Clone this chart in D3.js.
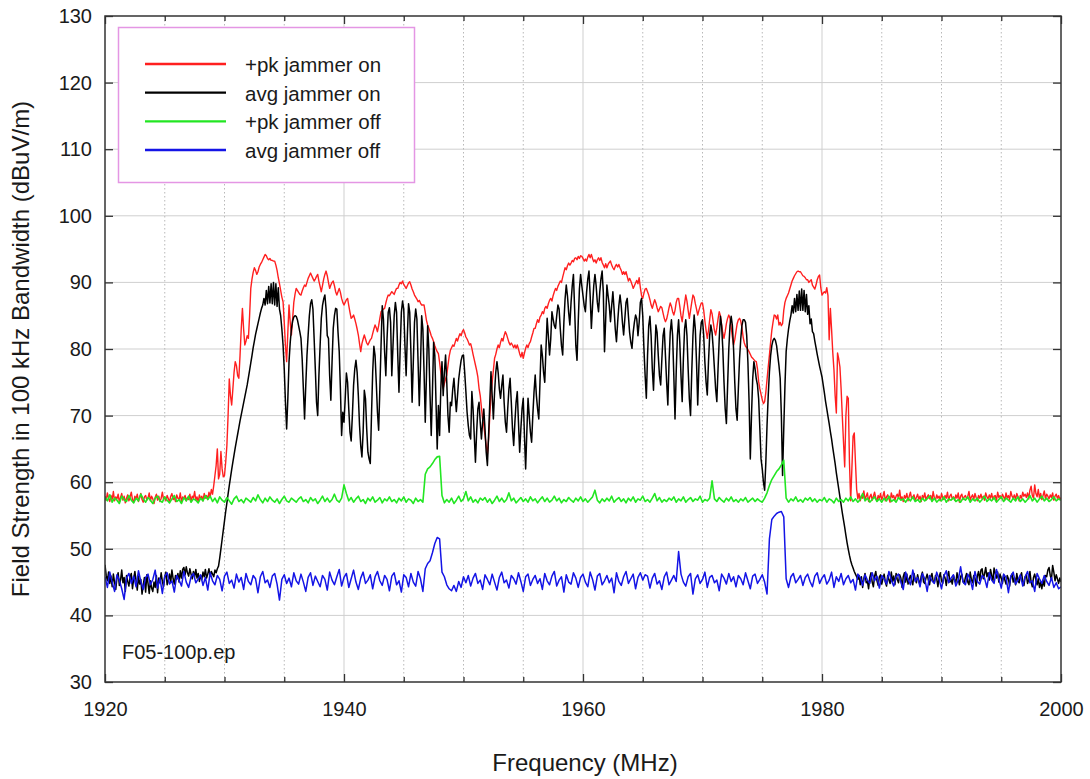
<!DOCTYPE html>
<html><head><meta charset="utf-8">
<script src="https://cdn.jsdelivr.net/npm/d3@7"></script>
<style>
body{margin:0;background:#fff}
svg{display:block}
text{font-family:"Liberation Sans",Arial,Helvetica,sans-serif;fill:#1a1a1a}
</style>
</head><body>
<svg id="chart" width="1090" height="779"></svg>
<script>
// ---------------- data ----------------
const FREQ_START = 1920;     // MHz, first sample
const FINE_STEP = 0.1;       // MHz between samples of the "jammer on" traces
const COARSE_STEP = 0.2;     // MHz between samples of the "jammer off" traces

const xMajorTicks = [1920, 1940, 1960, 1980, 2000];
const xMinorTicks = [1925, 1930, 1935, 1945, 1950, 1955, 1965, 1970, 1975, 1985, 1990, 1995];
const yTicks = [30, 40, 50, 60, 70, 80, 90, 100, 110, 120, 130];

const seriesNames = ["+pk jammer on", "avg jammer on", "+pk jammer off", "avg jammer off"];
const seriesColors = ["#ff1f1f", "#000000", "#22e622", "#1414e6"];

// +pk jammer on (red), one row per MHz, 0.1 MHz steps
const pkJammerOn = [
57.9,57.3,58.4,57.6,57.1,58.0,57.4,58.6,57.2,57.8,
57.5,58.2,57.0,57.7,58.3,57.3,57.9,56.9,57.6,58.1,
57.2,57.8,58.5,57.4,57.0,57.9,57.5,58.2,57.1,57.7,
58.3,57.4,57.0,57.8,58.0,57.3,57.6,58.4,57.2,57.9,
57.5,56.8,57.7,58.2,57.3,57.9,57.1,57.6,58.5,57.4,
57.8,57.2,58.0,57.5,57.0,57.9,58.3,57.4,57.7,57.1,
58.1,57.6,57.3,58.4,57.0,57.8,57.5,58.0,57.2,57.7,
57.4,58.2,57.1,57.9,57.6,58.6,57.3,57.8,57.0,58.1,
57.5,57.9,57.2,58.3,57.6,58.0,57.4,58.5,57.8,58.9,
58.2,59.5,61.0,62.5,65.0,60.5,61.2,64.6,62.0,60.8,
61.0,63.0,65.5,70.0,75.5,73.0,71.6,74.0,76.5,78.1,
77.5,76.0,75.6,79.0,83.0,86.1,83.0,80.6,81.2,82.0,
81.6,85.0,89.1,90.5,91.5,92.2,91.8,91.2,91.6,92.3,
92.7,93.0,93.4,93.8,94.2,94.0,93.6,93.4,93.6,93.3,
93.3,93.2,93.2,92.6,91.8,90.7,89.8,88.8,87.8,87.1,
84.0,80.5,78.1,82.5,86.6,84.0,82.1,84.5,87.0,88.2,
89.1,88.8,88.5,88.2,88.1,88.7,89.2,89.6,89.4,90.0,
90.6,91.0,91.4,91.0,90.6,90.2,90.5,90.9,91.2,90.2,
89.4,88.6,89.5,90.5,91.2,91.7,91.0,90.0,89.1,89.6,
90.0,90.2,89.5,88.6,88.1,88.6,89.1,88.5,87.6,87.0,
86.6,87.0,87.4,87.6,86.5,85.5,84.6,84.8,85.1,84.5,
83.8,83.0,82.1,80.8,79.6,80.8,81.5,82.1,81.5,80.9,
80.6,81.0,81.4,81.6,82.3,83.0,83.6,83.2,82.6,83.5,
84.6,85.6,85.8,86.0,86.1,86.9,87.6,88.1,88.0,88.3,
88.6,88.4,88.2,88.7,89.1,89.1,89.6,90.0,89.8,90.2,
89.7,89.4,89.1,89.5,89.9,90.1,89.6,89.0,88.6,88.1,
87.8,87.5,87.1,87.3,86.9,86.6,86.6,86.6,85.5,84.3,
83.6,83.1,82.6,82.0,81.6,81.1,80.5,80.0,79.6,79.3,
78.0,76.5,75.0,74.1,74.8,75.5,76.1,77.5,78.9,79.8,
80.2,80.6,80.4,81.0,81.6,81.2,81.8,82.3,82.0,82.6,
82.9,82.4,81.8,81.5,81.1,80.6,80.8,80.1,79.2,78.4,
77.6,76.8,75.8,74.1,73.0,71.2,69.5,68.5,67.0,65.5,
64.2,66.5,70.0,73.1,75.0,76.8,78.6,79.2,80.0,80.6,
80.2,81.0,81.6,81.2,82.0,82.6,82.2,81.6,81.0,80.6,
80.9,80.6,80.2,80.6,80.1,80.6,80.0,79.3,78.8,79.5,
78.6,79.4,80.1,80.6,80.2,80.8,81.1,81.8,82.4,83.1,
83.1,83.8,84.4,84.0,84.8,85.1,85.6,85.3,86.1,86.4,
86.1,86.8,87.3,87.6,87.2,88.0,88.6,89.1,88.8,89.4,
89.8,90.2,90.0,90.8,91.5,92.2,91.9,92.5,92.9,92.6,
92.9,93.3,93.1,93.6,93.7,93.4,93.9,93.6,94.0,93.9,
93.6,93.2,93.5,93.2,93.8,94.2,93.7,94.2,93.6,93.1,
93.4,92.9,93.4,93.7,93.3,93.7,93.0,92.6,92.2,92.8,
92.2,92.7,93.0,93.2,92.6,92.2,91.9,92.4,92.7,92.3,
92.7,92.2,91.8,91.2,91.6,91.2,91.6,90.9,90.2,90.6,
90.2,89.7,89.1,89.5,89.9,90.3,89.8,90.7,89.2,88.0,
87.6,88.4,89.0,89.1,88.6,88.1,87.4,86.6,86.1,86.8,
87.4,86.9,86.2,85.6,86.0,86.4,86.2,85.4,84.6,84.1,
84.5,85.3,86.2,86.9,86.4,85.6,85.1,85.8,87.0,87.6,
87.6,86.4,85.0,84.1,85.6,86.8,88.1,87.2,85.8,84.6,
85.8,87.0,88.1,87.8,86.8,86.0,85.1,85.8,86.4,86.9,
86.9,85.8,84.2,82.8,81.6,82.8,84.4,85.9,85.3,84.0,
82.8,82.1,83.2,84.5,85.6,85.0,83.6,82.4,81.6,82.6,
83.8,84.6,85.1,84.6,83.2,81.8,80.6,81.4,82.6,83.8,
84.4,84.6,84.2,83.2,81.8,80.9,80.4,80.2,79.9,79.6,
79.2,78.8,78.6,78.4,78.2,78.1,77.0,75.1,74.0,73.2,
72.4,71.8,72.1,73.5,75.4,77.3,79.1,81.0,82.8,84.0,
85.1,85.0,84.5,85.1,83.6,84.0,83.5,83.8,85.8,87.0,
87.6,88.0,88.4,89.0,89.6,90.2,90.6,91.0,91.3,91.6,
91.7,91.6,91.6,91.3,91.0,90.9,90.7,90.4,90.4,90.0,
90.2,90.4,89.6,89.3,89.0,89.6,90.4,90.9,91.1,89.2,
88.1,88.4,88.6,88.4,89.2,88.0,81.4,86.1,83.0,79.5,
76.9,73.0,70.4,79.4,78.5,77.3,74.0,69.9,66.0,62.3,
70.0,72.9,72.6,62.9,57.2,62.0,66.9,67.4,63.0,58.9,
57.5,58.3,57.2,58.0,57.6,58.7,57.4,57.9,58.4,57.1,
57.8,58.2,57.3,57.9,58.5,57.6,57.2,58.0,57.5,58.3,
57.4,57.9,58.6,57.2,57.8,58.1,57.5,57.0,58.4,57.7,
58.0,57.3,57.9,58.2,57.6,58.8,57.4,57.8,57.1,58.0,
57.6,58.3,57.2,57.9,58.5,57.5,57.8,58.1,57.3,57.7,
58.2,57.4,57.9,57.1,58.0,57.6,58.4,57.3,57.8,58.1,
57.5,58.0,57.2,58.6,57.7,57.3,58.1,57.6,57.9,57.2,
58.3,57.7,57.4,58.0,57.6,58.5,57.2,57.9,58.2,57.5,
57.8,57.3,58.1,57.6,58.4,57.0,57.9,58.2,57.4,57.8,
58.0,57.5,57.9,58.6,57.3,57.8,58.1,57.4,58.3,57.7,
57.2,58.0,57.6,58.2,57.5,57.9,57.3,58.4,57.8,57.5,
58.1,57.6,58.3,57.4,57.9,58.0,57.2,58.5,57.7,58.0,
57.5,58.2,57.8,57.3,58.4,57.6,58.0,57.4,58.6,57.9,
57.6,58.1,57.4,58.3,57.8,57.2,58.0,57.6,58.5,57.9,
58.2,57.7,58.4,57.5,58.8,59.4,58.0,57.6,59.6,58.3,
57.8,58.9,57.6,58.3,57.4,58.0,58.7,57.5,58.2,57.9,
57.5,58.1,57.7,58.4,57.3,57.9,58.2,57.6,58.0,57.4,
57.7
];

// avg jammer on (black), one row per MHz, 0.1 MHz steps
const avgJammerOn = [
47.6,46.0,45.2,46.5,44.8,45.9,44.3,46.2,45.0,43.9,
45.6,46.4,44.5,45.3,46.8,44.9,45.7,43.6,46.0,45.1,
44.4,45.8,46.3,44.0,45.5,46.6,45.2,43.8,45.9,44.7,
45.4,43.2,44.6,45.7,43.5,46.1,44.8,43.3,45.2,44.1,
43.6,45.0,44.2,46.0,43.4,45.6,44.9,46.4,45.1,44.3,
45.8,46.5,44.6,45.3,46.2,45.0,46.8,45.5,44.7,46.0,
45.4,46.3,45.0,46.7,45.6,46.9,47.2,46.1,47.3,46.4,
45.9,47.0,46.2,45.5,46.6,45.8,46.9,45.6,46.3,45.1,
46.0,45.4,46.5,45.8,46.9,45.6,46.2,47.0,45.9,46.6,
46.2,45.8,46.8,46.4,47.0,47.4,48.6,50.0,51.4,52.8,
54.2,55.6,56.9,58.2,59.5,60.7,61.9,63.0,64.1,65.2,
66.2,67.2,68.2,69.2,70.1,71.0,71.9,72.8,73.7,74.6,
75.7,76.8,77.9,79.0,80.2,81.2,82.2,83.0,83.8,84.6,
85.4,86.1,86.6,87.6,86.6,88.8,86.8,89.4,86.9,89.8,
86.8,90.0,86.6,89.8,86.4,89.2,86.0,85.0,83.0,80.6,
77.0,72.0,68.0,72.5,78.1,81.0,83.0,84.2,84.8,85.0,
84.9,84.4,83.5,82.6,81.6,78.5,74.0,69.5,74.5,79.0,
82.1,85.0,86.8,87.4,86.0,81.6,77.0,72.0,70.0,76.0,
80.5,84.6,86.5,87.5,88.1,86.0,82.0,81.6,76.0,72.3,
78.0,83.1,85.0,86.1,86.0,82.5,79.6,74.0,67.0,70.5,
69.0,72.5,76.4,75.0,71.0,67.5,66.2,70.0,74.5,77.0,
78.3,76.5,73.0,68.5,65.5,63.8,67.5,73.8,72.5,68.0,
64.5,63.5,62.8,70.0,76.5,80.4,79.0,75.0,70.5,67.8,
74.0,80.5,86.5,84.5,79.5,76.0,81.5,85.5,86.2,84.0,
76.0,80.5,85.0,87.0,85.5,79.0,73.5,80.0,85.5,87.2,
86.0,80.5,76.0,82.0,86.8,85.5,79.5,72.0,78.0,84.0,
86.0,84.5,78.0,71.5,77.5,85.0,83.0,76.5,69.0,76.0,
83.5,80.0,73.0,67.0,73.5,81.0,79.0,72.0,65.0,71.5,
67.0,74.0,78.1,73.0,76.5,79.1,75.0,70.0,67.5,72.0,
71.5,74.0,75.6,73.0,70.6,73.0,75.5,77.0,78.3,79.0,
79.1,76.5,73.6,70.5,68.5,67.0,66.5,73.6,71.0,67.0,
63.0,67.5,71.0,72.0,69.0,66.5,69.0,71.0,68.0,64.5,
62.5,67.0,72.0,76.6,73.0,69.5,73.5,76.5,78.1,76.5,
74.0,72.6,74.5,76.1,72.0,69.0,67.5,71.0,74.0,75.6,
72.0,68.0,65.5,69.0,72.0,73.6,69.0,64.5,68.0,71.0,
72.6,67.0,62.0,67.5,72.6,70.0,67.5,66.0,70.0,73.5,
76.1,73.0,71.0,69.5,75.0,80.6,79.0,76.5,75.0,80.0,
84.6,82.0,79.1,81.5,85.6,84.5,83.5,83.1,85.0,86.6,
86.0,83.0,80.5,79.1,84.0,87.5,89.6,88.0,85.5,83.6,
87.0,89.5,91.2,86.0,80.5,78.3,84.0,89.0,91.2,89.5,
88.0,86.5,85.6,88.5,90.5,91.7,88.0,83.1,86.5,89.5,
91.2,89.5,87.0,85.6,88.5,90.5,91.7,88.5,79.6,84.5,
89.6,88.0,86.5,84.1,86.5,88.6,86.0,83.0,81.1,84.0,
86.5,88.1,86.5,84.0,82.1,84.5,87.0,87.6,85.0,82.5,
81.0,80.1,82.5,84.0,85.1,84.5,82.0,84.0,87.0,87.6,
85.0,80.0,76.0,72.6,79.0,83.5,84.9,82.0,77.0,73.8,
79.0,83.6,82.5,79.0,76.0,74.6,78.5,82.0,83.1,79.0,
75.0,71.6,78.0,82.5,84.4,82.0,76.0,69.5,76.5,82.0,
84.4,81.0,76.0,72.1,78.5,83.0,84.4,82.0,77.0,72.5,
70.0,76.5,82.0,85.1,83.0,78.0,71.6,77.5,82.0,84.0,
84.4,82.0,78.0,75.0,73.1,78.0,82.0,83.6,82.5,80.0,
77.0,74.0,72.1,77.0,81.5,84.9,83.5,80.0,75.0,71.0,
68.8,74.5,80.0,83.5,84.9,83.5,80.0,75.0,71.0,69.3,
74.0,78.5,81.5,83.5,84.4,84.4,84.0,82.0,78.0,72.0,
63.5,70.0,75.5,78.1,77.0,75.5,74.6,72.5,68.0,63.5,
62.0,60.0,58.8,63.0,68.5,73.0,76.5,79.0,80.5,81.3,
81.6,81.3,80.5,79.0,77.5,75.6,70.0,61.0,68.0,74.5,
79.6,81.5,83.0,84.2,85.1,86.5,85.4,87.6,85.6,88.2,
85.8,88.7,85.8,89.0,85.8,88.8,85.6,88.2,85.2,86.5,
83.8,84.5,82.6,82.3,81.2,80.2,79.2,78.3,77.4,76.6,
75.8,74.6,73.4,72.1,71.0,69.9,68.8,67.6,66.5,65.2,
64.0,62.8,61.4,60.2,59.0,57.8,56.6,55.4,54.3,53.2,
52.0,50.9,49.9,49.0,48.2,47.6,47.1,46.6,46.2,45.8,
45.4,46.0,44.6,45.8,44.2,45.5,46.3,44.9,45.1,44.0,
45.7,46.4,45.0,44.3,45.9,46.6,45.2,44.5,45.8,46.1,
44.7,45.5,46.2,45.0,44.4,46.0,45.3,44.8,46.5,45.1,
45.9,44.6,46.3,45.4,44.9,46.1,45.6,44.2,45.8,46.4,
45.0,46.2,44.7,45.5,46.0,45.2,44.6,46.3,45.4,44.9,
46.1,45.3,44.5,45.9,46.5,45.0,44.8,45.6,46.2,45.3,
44.6,45.8,46.3,45.1,44.9,46.0,45.5,44.3,45.7,46.4,
45.2,44.8,46.1,45.6,44.5,45.9,46.6,45.0,45.4,44.7,
46.0,45.3,44.9,46.4,45.5,44.6,45.8,46.2,45.1,44.8,
45.7,46.3,45.0,44.6,46.5,45.4,44.9,46.0,45.6,44.4,
45.9,46.6,45.2,46.8,47.0,45.5,46.2,47.2,45.8,46.4,
45.3,46.9,46.0,45.1,47.1,46.3,45.6,46.5,45.0,46.2,
45.6,44.8,46.1,45.3,44.7,46.0,45.5,44.4,45.8,46.2,
45.0,45.7,44.6,46.3,45.2,44.9,45.9,46.4,45.1,44.5,
45.8,46.1,44.8,45.4,46.6,45.0,44.3,45.7,46.2,45.3,
44.6,45.5,44.2,45.0,44.0,45.3,44.4,46.0,45.8,46.8,
47.2,46.0,45.4,47.5,46.5,45.2,46.1,45.5,44.8,45.6,
45.0
];

// +pk jammer off (green), 0.2 MHz steps, one row per 4 MHz
const pkJammerOff = [
57.8,57.2,58.1,57.0,57.6,57.3,56.8,57.9,57.4,57.1,58.0,57.3,56.9,57.6,57.2,58.2,57.5,57.0,57.7,57.3,
56.8,57.6,57.9,57.2,57.0,57.8,57.3,56.9,57.5,58.0,57.1,57.4,56.8,57.7,57.2,57.9,57.0,57.5,57.3,56.9,
57.6,57.2,58.0,57.4,57.9,57.1,57.6,56.9,57.8,57.3,57.0,57.7,57.2,56.7,57.5,57.9,57.1,57.4,56.9,57.6,
57.3,57.0,57.7,57.2,58.1,57.4,56.9,57.6,57.1,57.8,57.3,57.0,57.5,56.8,57.4,57.9,57.2,57.0,57.6,57.3,
57.0,57.5,57.8,57.1,57.4,56.9,57.7,57.2,57.5,56.8,57.3,57.9,57.1,57.6,57.0,57.4,58.2,57.3,57.0,57.6,
59.6,58.3,57.2,57.7,57.0,57.5,57.9,57.1,57.4,56.8,57.6,57.2,57.8,57.0,57.3,57.7,56.9,57.5,57.2,57.8,
57.1,57.4,56.9,57.6,57.2,57.8,57.0,57.5,57.3,56.8,57.6,57.1,57.4,57.0,61.2,62.0,62.3,62.8,63.4,63.8,
63.9,58.0,56.9,57.4,57.0,57.6,56.8,57.3,57.9,57.1,57.5,58.6,57.2,57.8,57.0,57.4,56.9,57.6,57.3,57.7,
57.0,57.5,56.8,57.3,57.9,57.1,57.6,57.0,57.4,58.4,57.2,57.6,56.9,57.3,57.7,57.1,57.5,57.0,57.8,57.2,
57.5,56.9,57.4,57.8,57.1,57.6,57.0,57.3,57.9,57.2,57.6,56.9,57.4,57.1,57.7,57.3,57.0,57.6,57.2,57.8,
57.1,57.5,57.0,57.4,57.8,58.8,57.3,56.9,57.5,57.1,57.6,57.2,57.9,57.0,57.4,57.7,57.1,57.5,56.9,57.6,
57.2,57.8,57.0,57.5,57.3,57.9,57.1,57.4,57.0,57.6,58.3,57.2,57.7,57.0,57.4,57.1,57.6,57.3,57.8,57.0,
57.5,57.2,57.8,57.0,57.4,57.7,57.1,57.5,57.3,57.9,57.0,57.4,57.2,57.6,60.2,57.5,57.1,57.7,57.3,57.0,
57.6,57.2,57.8,57.1,57.4,57.0,57.5,57.2,57.7,57.0,57.3,57.6,57.1,57.5,57.2,57.0,57.6,58.4,59.5,60.4,
61.0,61.6,62.0,62.6,63.3,57.6,57.0,57.5,57.2,57.8,57.1,57.4,57.0,57.6,57.3,57.7,57.1,57.5,57.0,57.4,
57.2,57.7,57.0,57.5,57.3,56.9,57.6,57.1,57.4,57.0,57.6,57.2,57.8,57.1,57.5,57.0,57.4,58.3,57.2,57.6,
57.0,57.4,57.8,57.1,57.5,57.0,57.6,57.2,57.9,57.1,57.4,57.0,57.7,57.3,57.5,57.0,57.6,57.2,57.8,57.1,
57.4,57.0,57.6,57.2,57.5,57.9,57.1,57.6,57.0,57.4,57.2,57.8,57.0,57.5,57.3,57.7,57.1,57.4,57.0,57.6,
57.3,57.8,57.0,57.5,57.2,57.6,57.0,57.4,57.9,57.1,57.5,57.2,57.7,57.0,57.4,57.8,57.1,57.6,57.3,57.0,
57.6,57.2,57.8,57.1,57.5,57.0,57.4,58.0,57.2,57.6,57.0,57.5,57.9,57.2,57.6,57.1,57.4,57.8,57.2,57.5,
57.3
];

// avg jammer off (blue), 0.2 MHz steps, one row per 4 MHz
const avgJammerOff = [
45.8,44.2,46.5,45.0,43.6,46.1,45.3,44.0,42.4,45.6,46.3,44.8,45.9,44.3,46.7,45.1,43.9,45.7,46.2,44.6,
45.4,46.8,44.1,45.6,43.3,45.9,46.4,44.7,45.2,43.5,46.0,45.3,44.4,46.6,45.0,44.2,45.8,46.3,44.9,45.5,
46.1,44.5,45.7,43.8,46.4,45.2,44.6,46.0,45.4,43.7,45.9,46.5,44.8,45.3,44.1,46.2,45.0,45.7,43.9,46.3,
45.1,44.6,46.0,45.5,43.4,45.8,46.6,44.9,45.3,44.2,45.9,46.3,44.7,42.3,45.4,46.1,44.8,45.6,44.3,46.4,
45.2,44.7,46.2,45.0,43.6,45.7,46.4,44.5,45.9,45.1,44.3,46.0,45.4,43.8,46.5,45.3,44.6,45.8,46.9,44.4,
45.7,46.3,44.2,45.5,46.8,45.0,43.9,45.6,46.5,44.8,45.3,46.1,44.0,45.8,46.6,45.2,44.5,46.0,45.4,43.7,
45.9,46.4,44.6,45.2,43.5,46.1,45.7,44.3,46.3,45.0,44.4,46.6,45.5,43.6,47.0,47.8,48.2,49.4,50.8,51.7,
51.5,46.5,45.8,44.6,44.0,43.7,44.5,43.6,45.1,44.2,45.8,44.9,46.0,44.4,45.6,46.3,44.8,45.3,43.9,46.1,
45.4,44.6,46.2,45.0,43.8,45.7,46.5,44.9,45.3,44.1,46.0,45.5,44.7,46.4,45.1,43.6,45.8,46.2,44.5,45.4,
46.0,44.8,45.5,43.9,46.3,45.2,44.6,45.9,46.6,44.4,45.3,45.8,43.5,46.1,45.0,44.7,46.4,45.6,44.2,45.7,
46.2,45.0,44.3,46.5,45.4,43.8,45.9,46.3,44.6,45.2,46.0,44.9,45.6,43.4,46.4,45.1,44.5,45.8,46.6,44.8,
45.5,46.2,44.0,45.7,46.4,45.3,46.1,45.9,44.1,45.6,46.3,44.7,45.2,43.9,45.8,46.5,44.6,45.3,46.0,45.1,
49.6,46.2,45.0,44.4,45.8,46.3,43.2,45.5,46.1,44.8,45.4,46.5,44.2,45.7,46.0,44.9,45.3,43.7,46.2,45.6,
44.7,46.3,45.1,45.8,44.3,46.0,45.5,44.6,46.4,45.2,44.0,45.9,46.2,44.8,45.4,46.1,45.0,43.2,51.5,54.4,
54.9,55.3,55.5,55.6,54.8,45.5,44.2,45.8,46.3,44.9,45.4,46.0,44.5,45.7,46.2,45.1,44.3,45.9,46.4,44.8,
45.6,46.1,44.7,45.3,46.5,44.2,45.8,45.1,46.3,44.6,45.5,46.0,44.9,45.4,43.8,46.2,45.7,44.5,46.1,45.3,
44.8,46.4,45.2,45.9,44.1,46.0,45.5,44.7,46.6,45.3,44.4,45.8,46.2,45.0,43.9,46.5,45.4,44.6,46.8,45.1,
45.7,44.3,46.3,45.5,43.6,46.0,45.2,44.8,46.5,45.4,44.0,45.9,46.7,44.9,45.6,46.1,44.4,45.3,47.3,45.0,
44.6,46.2,45.4,43.9,46.6,45.1,44.7,46.0,45.6,44.2,46.4,45.3,44.8,46.9,45.5,44.1,46.2,45.7,43.4,45.9,
46.5,44.7,45.3,46.1,44.4,45.8,46.6,44.9,45.2,43.6,46.3,45.5,44.8,46.0,45.1,44.5,45.7,44.2,44.9,44.0,
44.3
];

// ---------------- chart ----------------
const W = 1090, H = 779;
const plot = {left: 105, right: 1061, top: 16, bottom: 682};

const svg = d3.select("#chart");
svg.append("rect").attr("width", W).attr("height", H).attr("fill", "#fff");

const x = d3.scaleLinear().domain([1920, 2000]).range([plot.left, plot.right]);
const y = d3.scaleLinear().domain([30, 130]).range([plot.bottom, plot.top]);

// grid
const grid = svg.append("g");
grid.selectAll("line.hg").data(yTicks.slice(1, -1)).join("line")
  .attr("x1", plot.left).attr("x2", plot.right)
  .attr("y1", d => y(d)).attr("y2", d => y(d))
  .attr("stroke", "#cfcfcf").attr("stroke-width", 1);
grid.selectAll("line.vmaj").data(xMajorTicks.slice(1, -1)).join("line")
  .attr("y1", plot.top).attr("y2", plot.bottom)
  .attr("x1", d => x(d)).attr("x2", d => x(d))
  .attr("stroke", "#cfcfcf").attr("stroke-width", 1);
grid.selectAll("line.vmin").data(xMinorTicks).enter().append("line")
  .attr("y1", plot.top).attr("y2", plot.bottom)
  .attr("x1", d => x(d)).attr("x2", d => x(d))
  .attr("stroke", "#b8b8b8").attr("stroke-width", 1)
  .attr("stroke-dasharray", "1.5,2.5");

// series
svg.append("clipPath").attr("id", "clip").append("rect")
  .attr("x", plot.left).attr("y", plot.top)
  .attr("width", plot.right - plot.left).attr("height", plot.bottom - plot.top);

const toPoints = (arr, step) => arr.map((v, i) => [FREQ_START + i * step, v]);
const line = d3.line().x(d => x(d[0])).y(d => y(d[1]));

const series = [
  {pts: toPoints(pkJammerOn, FINE_STEP), color: seriesColors[0], w: 1.4},
  {pts: toPoints(avgJammerOn, FINE_STEP), color: seriesColors[1], w: 1.5},
  {pts: toPoints(pkJammerOff, COARSE_STEP), color: seriesColors[2], w: 1.6},
  {pts: toPoints(avgJammerOff, COARSE_STEP), color: seriesColors[3], w: 1.5}
];
const sg = svg.append("g").attr("clip-path", "url(#clip)");
series.forEach(s => {
  sg.append("path").datum(s.pts).attr("d", line)
    .attr("fill", "none").attr("stroke", s.color)
    .attr("stroke-width", s.w).attr("stroke-linejoin", "round");
});

// axes (ticks point inward)
const axFont = 20;
const bottomMaj = d3.axisBottom(x).tickValues(xMajorTicks).tickFormat(d3.format("d"))
  .tickSizeInner(-8).tickSizeOuter(0).tickPadding(20);
const bottomMin = d3.axisBottom(x).tickValues(xMinorTicks).tickFormat("")
  .tickSizeInner(-5).tickSizeOuter(0);
const topMaj = d3.axisTop(x).tickValues(xMajorTicks).tickFormat("").tickSizeInner(-8).tickSizeOuter(0);
const topMin = d3.axisTop(x).tickValues(xMinorTicks).tickFormat("").tickSizeInner(-5).tickSizeOuter(0);
const leftAx = d3.axisLeft(y).tickValues(yTicks).tickFormat(d3.format("d"))
  .tickSizeInner(-8).tickSizeOuter(0).tickPadding(13);
const rightAx = d3.axisRight(y).tickValues(yTicks).tickFormat("").tickSizeInner(-8).tickSizeOuter(0);

function styleAxis(g) {
  g.select(".domain").remove();
  g.selectAll(".tick line").attr("stroke", "#333").attr("stroke-width", 1.3);
  g.selectAll(".tick text").attr("font-size", axFont).attr("fill", "#1a1a1a")
    .attr("font-family", '"Liberation Sans",Arial,Helvetica,sans-serif');
}
svg.append("g").attr("transform", `translate(0,${plot.bottom})`).call(bottomMaj).call(styleAxis);
svg.append("g").attr("transform", `translate(0,${plot.bottom})`).call(bottomMin).call(styleAxis);
svg.append("g").attr("transform", `translate(0,${plot.top})`).call(topMaj).call(styleAxis);
svg.append("g").attr("transform", `translate(0,${plot.top})`).call(topMin).call(styleAxis);
svg.append("g").attr("transform", `translate(${plot.left},0)`).call(leftAx).call(styleAxis);
svg.append("g").attr("transform", `translate(${plot.right},0)`).call(rightAx).call(styleAxis);

// frame
svg.append("rect").attr("x", plot.left).attr("y", plot.top)
  .attr("width", plot.right - plot.left).attr("height", plot.bottom - plot.top)
  .attr("fill", "none").attr("stroke", "#333").attr("stroke-width", 1.5);

// axis titles
svg.append("text").attr("x", (plot.left + plot.right) / 2 + 2).attr("y", 771)
  .attr("text-anchor", "middle").attr("font-size", 24).text("Frequency (MHz)");
svg.append("text").attr("transform", `translate(29,${(plot.top + plot.bottom) / 2}) rotate(-90)`)
  .attr("text-anchor", "middle").attr("font-size", 24)
  .text("Field Strength in 100 kHz Bandwidth (dBuV/m)");

// file tag
svg.append("text").attr("x", 122).attr("y", 659).attr("font-size", 20).text("F05-100p.ep");

// legend
const lg = svg.append("g");
lg.append("rect").attr("x", 118.5).attr("y", 27.5).attr("width", 296).attr("height", 155)
  .attr("fill", "#fff").attr("stroke", "#e496e4").attr("stroke-width", 1.5);
const legendY = d3.scalePoint().domain(seriesNames).range([64, 150]);
seriesNames.forEach((name, i) => {
  const ly = legendY(name);
  lg.append("line").attr("x1", 145).attr("x2", 226).attr("y1", ly).attr("y2", ly)
    .attr("stroke", seriesColors[i]).attr("stroke-width", 2.4);
  lg.append("text").attr("x", 245).attr("y", ly + 8).attr("font-size", 20.5).text(name);
});
</script>
</body></html>
